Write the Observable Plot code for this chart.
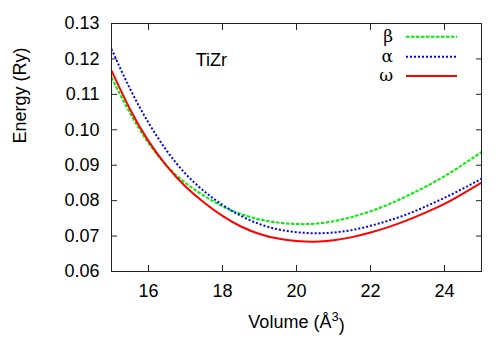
<!DOCTYPE html>
<html><head><meta charset="utf-8">
<script src="https://cdn.jsdelivr.net/npm/d3@7"></script>
<script src="https://cdn.jsdelivr.net/npm/@observablehq/plot@0.6"></script>
<style>
body{margin:0;background:#fff;}
#wrap{position:relative;width:500px;height:350px;}
#legend{position:absolute;left:0;top:0;pointer-events:none;}
</style></head><body><div id="wrap"></div>
<script>
const volume = [15,15.5,16,16.5,17,17.5,18,18.5,19,19.5,20,20.5,21,21.5,22,22.5,23,23.5,24,24.5,25];
const betaEnergy  = [0.1148,0.1047,0.0963,0.0898,0.0850,0.0814,0.0784,0.0762,0.0747,0.0738,0.0734,0.0735,0.0742,0.0754,0.0770,0.0790,0.0814,0.0840,0.0869,0.0902,0.0937];
const alphaEnergy = [0.1228,0.1116,0.1020,0.0940,0.0876,0.0827,0.0788,0.0757,0.0734,0.0719,0.0711,0.0708,0.0710,0.0717,0.0729,0.0744,0.0762,0.0784,0.0808,0.0834,0.0862];
const omegaEnergy = [0.1167,0.1058,0.0968,0.0897,0.0840,0.0795,0.0757,0.0727,0.0706,0.0693,0.0686,0.0684,0.0688,0.0697,0.0710,0.0726,0.0745,0.0767,0.0791,0.0820,0.0851];
const seriesNames = ["β","α","ω"];
const seriesColors = ["#00ee00","#0000ff","#ff0000"];
const seriesDash = ["3.5,1.5","2,2","none"];
const xTicks = [16,18,20,22,24];
const yTicks = [0.06,0.07,0.08,0.09,0.10,0.11,0.12,0.13];
const annotation = [{x:17.7, y:0.1197, text:"TiZr"}];
const xLabel = "Volume (Å3)";
const yLabel = "Energy (Ry)";

const energies = [betaEnergy, alphaEnergy, omegaEnergy];
const rows = [];
seriesNames.forEach((name,i)=>volume.forEach((v,j)=>rows.push({series:name, volume:v, energy:energies[i][j]})));

const font = "'Liberation Sans', Arial, Helvetica, sans-serif";
const lineMarks = seriesNames.map((name,i)=>Plot.line(rows.filter(r=>r.series===name),{
  x:"volume", y:"energy", stroke:seriesColors[i], strokeWidth:2, strokeDasharray:seriesDash[i],
  strokeLinecap:"butt", strokeLinejoin:"miter", curve:"natural"
}));

const plot = Plot.plot({
  width:500, height:350,
  marginLeft:111, marginRight:19, marginTop:23, marginBottom:79,
  style:{fontFamily:font, fontSize:"18px", color:"#000", background:"#fff"},
  x:{domain:[15,25]},
  y:{domain:[0.06,0.13]},
  marks:[
    ...lineMarks,
    Plot.frame({stroke:"#222"}),
    Plot.axisX(xTicks,{anchor:"bottom", tickSize:0, tickPadding:13, label:null, fontSize:18}),
    Plot.axisX(xTicks,{anchor:"bottom", tickSize:-6, tickFormat:()=>"", label:null, stroke:"#222"}),
    Plot.axisX(xTicks,{anchor:"top", tickSize:-6, tickFormat:()=>"", label:null, stroke:"#222"}),
    Plot.axisY(yTicks,{anchor:"left", tickSize:0, tickPadding:12, tickFormat:d3.format(".2f"), label:null, fontSize:18}),
    Plot.axisY(yTicks,{anchor:"left", tickSize:-6, tickFormat:()=>"", label:null, stroke:"#222"}),
    Plot.axisY(yTicks,{anchor:"right", tickSize:-6, tickFormat:()=>"", label:null, stroke:"#222"}),
    Plot.text(annotation,{x:"x", y:"y", text:"text", fontSize:18}),
    Plot.text([xLabel],{text:d=>d, frameAnchor:"bottom", dy:51, lineAnchor:"middle", fontSize:18, className:"xlabel"}),
    Plot.text([yLabel],{text:d=>d, frameAnchor:"left", rotate:-90, dx:-91.5, dy:-4, lineAnchor:"middle", fontSize:18})
  ]
});
document.getElementById("wrap").appendChild(plot);

// superscript the exponent in the x label
d3.select(plot).selectAll("text").filter(function(){ return this.textContent === xLabel; }).each(function(){
  const t = d3.select(this);
  t.text(null);
  t.append("tspan").text("Volume (Å");
  t.append("tspan").attr("font-size", 13).attr("dy", "-0.55em").text("3");
  t.append("tspan").attr("dy", "0.55em").text(")");
});

// legend (inside plot, upper right)
const leg = d3.select("#wrap").append("svg").attr("id","legend").attr("width",500).attr("height",350);
const rowY = [36.7, 56.7, 76];
const g = leg.selectAll("g").data(seriesNames).join("g").attr("transform",(d,i)=>`translate(0,${rowY[i]})`);
g.append("text").attr("x",393).attr("y",0).attr("dy","0.32em").attr("text-anchor","end")
  .attr("font-family","'DejaVu Serif','Liberation Serif',serif").attr("font-size",17).attr("fill","#000").text(d=>d);
g.append("line").attr("x1",406).attr("x2",457).attr("y1",0).attr("y2",0)
  .attr("stroke",(d,i)=>seriesColors[i]).attr("stroke-width",2).attr("stroke-dasharray",(d,i)=>seriesDash[i]);
</script></body></html>
